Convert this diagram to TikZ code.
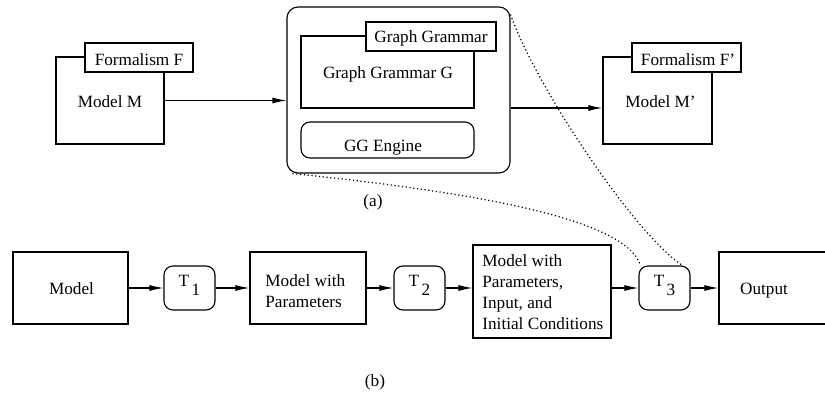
\documentclass[tikz,border=0pt]{standalone}
\usepackage{fontspec}
\setmainfont{Liberation Serif}
\usetikzlibrary{arrows.meta,calc}

\tikzset{
  box/.style={draw, line width=0.55pt, fill=white, inner sep=0pt},
  rbox/.style={box, rounded corners=4.5pt},
  lbl/.style={anchor=base, inner sep=0pt},
  arr/.style={line width=0.55pt, -{Latex[length=7pt,width=3pt]}},
  dots/.style={line width=0.6pt, dash pattern=on 0.6pt off 1.3pt},
}

\begin{document}
\begin{tikzpicture}[x=0.5pt, y=-0.5pt, font=\fontsize{8.6}{10.5}\selectfont]
\useasboundingbox (0,0) rectangle (825,394);
\clip (0,0) rectangle (825,394);

% ---- (a) model transformation by graph grammar ----
\node[box, minimum width=54pt, minimum height=43.5pt] (mBox) at (110,100.5) {};
\node[box, minimum width=54pt, minimum height=14.5pt] (fTab) at (139,57.5) {};
\node[lbl] (mTxt) at (110,108) {Model M};
\node[lbl] (fTxt) at (139,66) {Formalism F};

\node[box, rounded corners=5.5pt, minimum width=111.5pt, minimum height=83pt] (ggOuter) at (398.5,90) {};
\node[box, minimum width=86.5pt, minimum height=36pt] (ggBox) at (387.5,72) {};
\node[box, minimum width=65pt, minimum height=14.5pt] (ggTab) at (431,36.5) {};
\node[lbl] (ggTabTxt) at (431,43) {Graph Grammar};
\node[lbl] (ggTxt) at (388,79) {Graph Grammar G};
\node[rbox, minimum width=86.5pt, minimum height=18pt] (engine) at (387.5,140) {};
\node[lbl] (engineTxt) at (383,152) {GG Engine};

\node[box, minimum width=54.5pt, minimum height=43.5pt] (mpBox) at (657.5,100.5) {};
\node[box, minimum width=54.5pt, minimum height=14.5pt] (fpTab) at (686.5,57.5) {};
\node[lbl] (mpTxt) at (660.5,108) {Model M’};
\node[lbl] (fpTxt) at (688,66) {Formalism F’};

\draw[arr] (mBox.east) -- (mBox.east -| ggOuter.west);
\draw[arr] ([yshift=-9pt]ggOuter.east) -- ([yshift=-9pt]ggOuter.east -| mpBox.west);

\node[lbl] (capA) at (373,207) {(a)};

% ---- (b) transformation pipeline ----
\node[box, minimum width=57.5pt, minimum height=36pt] (model) at (70.5,288) {};
\node[lbl] (modelTxt) at (71.5,295) {Model};

\node[rbox, minimum width=25.5pt, minimum height=22pt] (t1) at (189.5,288) {};
\node[lbl] (t1Txt) at (189.5,287) {T\hspace{1.2pt}\raisebox{-4.5pt}{1}};

\node[box, minimum width=58pt, minimum height=36pt] (mwp) at (308,288) {};
\node[anchor=base west, inner sep=0pt] (mwpTxt) at (265,287)
  {\begin{tabular}[t]{@{}l@{}}Model with\\Parameters\end{tabular}};

\node[rbox, minimum width=25.5pt, minimum height=22pt] (t2) at (419.5,288) {};
\node[lbl] (t2Txt) at (419.5,287) {T\hspace{1.2pt}\raisebox{-4.5pt}{2}};

\node[box, minimum width=69pt, minimum height=46.5pt] (mpi) at (542,291.5) {};
\node[anchor=base west, inner sep=0pt] (mpiTxt) at (482,267)
  {\begin{tabular}[t]{@{}l@{}}Model with\\Parameters,\\Input, and\\Initial Conditions\end{tabular}};

\node[rbox, minimum width=25.5pt, minimum height=22pt] (t3) at (664.5,288) {};
\node[lbl] (t3Txt) at (664.5,287) {T\hspace{1.2pt}\raisebox{-4.5pt}{3}};

\node[box, minimum width=62pt, minimum height=36pt] (out) at (781,288) {};
\node[lbl] (outTxt) at (764,295) {Output};

\draw[arr] (model.east) -- (t1.west);
\draw[arr] (t1.east) -- (t1.east -| mwp.west);
\draw[arr] (mwp.east) -- (t2.west);
\draw[arr] (t2.east) -- (t2.east -| mpi.west);
\draw[arr] (t2.east -| mpi.east) -- (t3.west);
\draw[arr] (t3.east) -- (t3.east -| out.west);

\node[lbl] (capB) at (375,387) {(b)};

% ---- the graph grammar stands for T3 ----
\draw[dots] ([xshift=3pt]ggOuter.south west) .. controls (450,190) and (625,215) .. ([xshift=1pt]t3.north west);
\draw[dots] ([yshift=-4pt]ggOuter.north east) .. controls (535,85) and (635,235) .. ([xshift=-4pt]t3.north east);
\end{tikzpicture}
\end{document}
